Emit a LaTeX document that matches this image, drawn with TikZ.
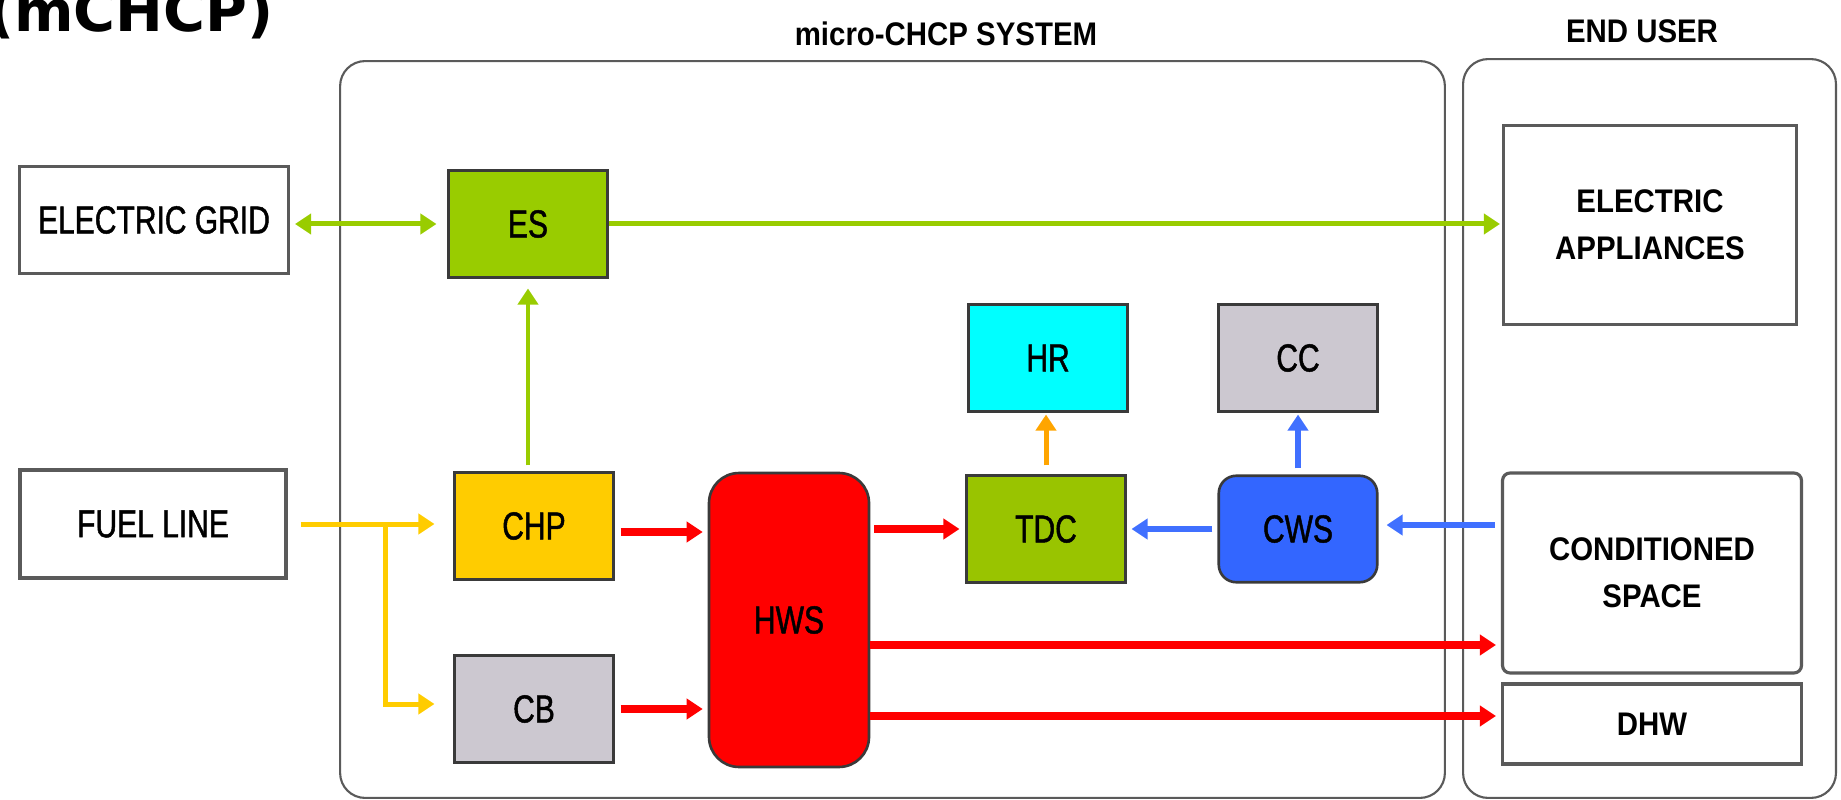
\documentclass[tikz,border=0pt]{standalone}
\usepackage{fontspec}
\usetikzlibrary{arrows.meta,calc}
\setmainfont{Liberation Sans}
\newfontfamily\condfont[FakeStretch=0.77,FakeBold=1.2]{Liberation Sans}
\newfontfamily\headfont[FakeStretch=0.9]{Liberation Sans}
\newfontfamily\titlefont{DejaVu Sans}

\definecolor{esgreen}{HTML}{99CC00}
\definecolor{tdcgreen}{HTML}{99C400}
\definecolor{chpyellow}{HTML}{FFCC00}
\definecolor{boxgray}{HTML}{CCC8D0}
\definecolor{hrcyan}{HTML}{00FFFF}
\definecolor{cwsblue}{HTML}{3366FF}
\definecolor{hotred}{HTML}{FF0000}
\definecolor{flowgreen}{HTML}{99CC00}
\definecolor{flowyellow}{HTML}{FFCC00}
\definecolor{flowblue}{HTML}{4070FF}
\definecolor{floworange}{HTML}{FFA500}
\definecolor{edge}{HTML}{5A5A5A}
\definecolor{darkedge}{HTML}{3A3A3A}

\tikzset{
  frame/.style={draw=edge, line width=1.2pt, rounded corners=0.5cm},
  whitebox/.style={draw=edge, line width=1.8pt, fill=white, align=center,
    font=\condfont\fontsize{22.2}{24}\selectfont},
  userbox/.style={draw=edge, line width=1.8pt, fill=white, align=center,
    font=\headfont\bfseries\fontsize{18.6}{26.6}\selectfont},
  unit/.style={draw=darkedge, line width=1.5pt, align=center,
    minimum width=3.17cm, minimum height=2.13cm,
    font=\condfont\fontsize{22.2}{24}\selectfont},
  heading/.style={font=\headfont\bfseries\fontsize{18.6}{22}\selectfont},
  tip/.style={-{Triangle[length=0.32cm,width=0.4cm]}},
  gflow/.style={draw=flowgreen, line width=0.1cm, tip},
  yflow/.style={draw=flowyellow, line width=0.1cm, tip},
  rflow/.style={draw=hotred, line width=0.15cm, tip},
  bflow/.style={draw=flowblue, line width=0.13cm, tip},
  oflow/.style={draw=floworange, line width=0.1cm, tip},
}

\begin{document}
\begin{tikzpicture}[x=0.02cm, y=-0.02cm]
\useasboundingbox (0,0) rectangle (1841,800);

% title fragment at the top left
\node[anchor=base west, inner sep=0pt, font=\titlefont\bfseries\fontsize{32.5}{32.5}\selectfont]
  (title) at (-12,32) {(mCHCP)};

% system and end-user frames
\node[frame, minimum width=22.1cm, minimum height=14.74cm] (sys) at (892.5,429.5) {};
\node[frame, minimum width=7.46cm, minimum height=14.78cm] (usr) at (1649.5,428.5) {};
\node[heading] (syslabel) at (946,34) {micro-CHCP SYSTEM};
\node[heading] (usrlabel) at (1642,31) {END USER};

% external sources
\node[whitebox, minimum width=5.38cm, minimum height=2.14cm] (grid) at (154,220) {ELECTRIC GRID};
\node[whitebox, minimum width=5.32cm, minimum height=2.16cm] (fuel) at (153,524) {FUEL LINE};

% plant units
\node[unit, fill=esgreen] (es) at (528,224) {ES};
\node[unit, fill=chpyellow] (chp) at (534,526) {CHP};
\node[unit, fill=boxgray] (cb) at (534,709) {CB};
\node[unit, fill=hotred, minimum width=3.2cm, minimum height=5.88cm, rounded corners=0.6cm] (hws) at (789,620) {HWS};
\node[unit, fill=tdcgreen] (tdc) at (1046,529) {TDC};
\node[unit, fill=hrcyan] (hr) at (1048,358) {HR};
\node[unit, fill=boxgray] (cc) at (1298,358) {CC};
\node[unit, fill=cwsblue, rounded corners=0.35cm] (cws) at (1298,529) {CWS};

% end-user loads
\node[userbox, minimum width=5.86cm, minimum height=3.98cm] (ea) at (1650,225) {ELECTRIC\\APPLIANCES};
\node[userbox, minimum width=5.98cm, minimum height=4.0cm, rounded corners=0.15cm] (cs) at (1652,573) {CONDITIONED\\SPACE};
\node[userbox, minimum width=5.98cm, minimum height=1.6cm] (dhw) at (1652,724) {DHW};

% port points on the boxes
\coordinate (branch) at (385,524);
\coordinate (chpout) at ([yshift=-0.12cm]chp.east);
\coordinate (hwsout) at ([yshift=-0.5cm]hws.east);
\coordinate (dhwin) at ([yshift=0.16cm]dhw.west);
\coordinate (cwsin) at ([yshift=0.08cm]cws.east);

% electricity
\draw[gflow, {Triangle[length=0.32cm,width=0.4cm]}-{Triangle[length=0.32cm,width=0.4cm]},
  shorten <=0.1cm, shorten >=0.22cm] (grid.east |- es.west) -- (es.west);
\draw[gflow, shorten >=0.04cm] (es.east) -- (ea.west |- es.east);
\draw[gflow, line width=0.08cm, shorten <=0.12cm, shorten >=0.2cm] (es.south |- chp.north) -- (es.south);

% fuel
\draw[yflow, shorten <=0.26cm, shorten >=0.38cm] (fuel.east) -- (fuel.east -| chp.west);
\draw[yflow, shorten >=0.38cm] (branch) |- ([yshift=0.1cm]cb.west);

% hot water
\draw[rflow, shorten <=0.12cm, shorten >=0.1cm] (chpout) -- (chpout -| hws.west);
\draw[rflow, shorten <=0.12cm, shorten >=0.1cm] (cb.east) -- (cb.east -| hws.west);
\draw[rflow, shorten <=0.08cm, shorten >=0.12cm] (hws.east |- tdc.west) -- (tdc.west);
\draw[rflow, shorten >=0.1cm] (hwsout) -- (hwsout -| cs.west);
\draw[rflow, shorten >=0.1cm] (hws.east |- dhwin) -- (dhwin);

% heat rejection and chilled water
\draw[oflow, shorten <=0.18cm, shorten >=0.04cm] (tdc.north) -- (tdc.north |- hr.south);
\draw[bflow, shorten <=0.1cm, shorten >=0.1cm] (cws.west) -- (cws.west -| tdc.east);
\draw[bflow, shorten <=0.12cm, shorten >=0.04cm] (cws.north) -- (cc.south);
\draw[bflow, shorten <=0.12cm, shorten >=0.16cm] (cs.west |- cwsin) -- (cwsin);
\end{tikzpicture}
\end{document}
